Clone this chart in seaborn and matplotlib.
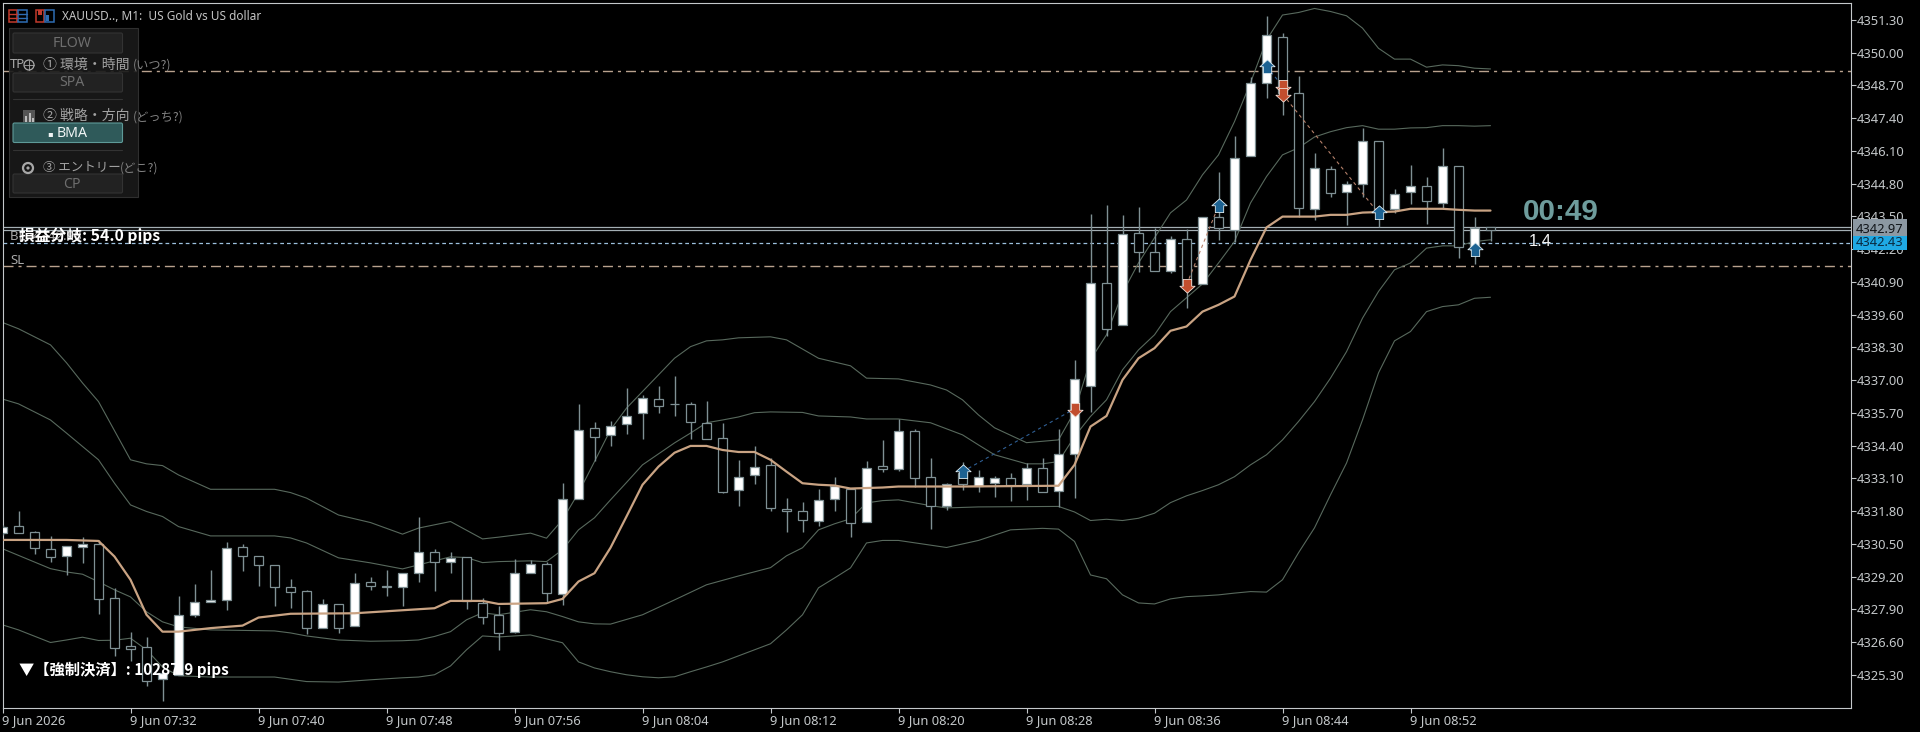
import numpy as np
import pandas as pd
import seaborn as sns
import matplotlib
matplotlib.use("Agg")
import matplotlib.pyplot as plt
from matplotlib.patches import Rectangle, Circle, FancyBboxPatch
from matplotlib.path import Path

# ---------- data (prices) ----------
opens = [4330.93,4331.23,4330.99,4330.32,4330.02,4330.36,4330.49,4328.35,4326.46,4326.40,
4325.14,4325.31,4327.67,4328.21,4328.27,4330.37,4330.02,4329.66,4328.79,4328.63,
4327.16,4328.11,4327.24,4328.98,4328.83,4328.79,4329.34,4330.17,4329.78,4329.98,
4328.15,4327.69,4327.02,4329.34,4329.70,4328.53,4332.28,4335.10,4334.82,4335.25,
4335.69,4336.27,4336.05,4336.05,4335.32,4334.70,4332.63,4333.23,4333.64,4331.88,
4331.79,4331.40,4332.28,4332.69,4331.37,4333.59,4333.47,4334.98,4333.15,4332.00,
4333.32,4332.81,4332.92,4333.11,4332.87,4333.51,4332.61,4334.07,4336.75,4340.85,
4339.17,4342.83,4342.08,4341.35,4342.59,4340.81,4343.47,4342.96,4345.89,4348.78,
4350.63,4348.39,4343.78,4345.37,4344.46,4344.78,4346.48,4343.80,4344.46,4344.70,
4344.05,4345.49,4342.17,4343.09]
highs = [4331.26,4331.81,4331.02,4330.82,4330.40,4330.79,4330.66,4328.75,4327.00,4326.79,
4325.39,4328.44,4328.92,4329.47,4330.58,4330.48,4330.02,4329.66,4329.12,4328.68,
4328.31,4328.11,4329.34,4329.17,4329.47,4329.34,4331.56,4330.30,4330.17,4329.98,
4328.35,4328.02,4329.90,4329.87,4329.80,4332.91,4336.05,4335.33,4335.38,4336.68,
4336.42,4336.75,4337.17,4336.13,4336.18,4335.29,4333.84,4334.39,4333.90,4332.32,
4332.16,4332.69,4333.15,4332.69,4333.81,4334.63,4335.46,4335.06,4333.90,4332.91,
4333.76,4333.44,4333.20,4333.31,4333.71,4333.90,4335.07,4337.80,4343.60,4343.96,
4343.56,4343.86,4343.03,4342.73,4343.00,4343.47,4345.25,4346.69,4349.02,4351.47,
4350.77,4349.07,4346.01,4345.48,4344.91,4347.00,4346.48,4344.58,4345.54,4345.06,
4346.20,4345.49,4343.47,4343.09]
lows = [4330.86,4330.94,4330.11,4329.80,4329.27,4329.74,4327.73,4326.07,4325.86,4324.88,
4324.25,4325.31,4327.62,4328.21,4327.86,4329.44,4328.84,4328.02,4327.94,4326.93,
4327.16,4326.98,4327.24,4328.68,4328.44,4328.02,4329.01,4328.64,4329.34,4327.92,
4327.33,4326.30,4326.96,4329.34,4328.15,4328.08,4332.28,4333.81,4334.39,4334.87,
4334.67,4335.71,4335.58,4334.66,4334.66,4332.54,4332.02,4332.88,4331.79,4330.99,
4330.99,4331.22,4331.81,4330.79,4331.37,4333.37,4333.41,4332.78,4331.10,4331.83,
4332.65,4332.57,4332.37,4332.22,4332.25,4332.58,4331.98,4332.34,4335.75,4338.77,
4339.17,4341.28,4341.35,4341.25,4339.86,4340.81,4342.57,4342.50,4345.89,4348.21,
4347.53,4343.49,4343.36,4344.25,4343.16,4344.25,4343.09,4343.63,4343.99,4343.20,
4343.82,4341.84,4341.61,4342.54]
closes = [4331.19,4330.95,4330.33,4330.00,4330.40,4330.49,4328.31,4326.37,4326.35,4325.08,
4325.37,4327.67,4328.19,4328.28,4330.33,4330.02,4329.66,4328.81,4328.61,4327.16,
4328.11,4327.18,4328.94,4328.85,4328.79,4329.34,4330.17,4329.78,4329.96,4328.23,
4327.62,4326.98,4329.34,4329.70,4328.57,4332.28,4335.02,4334.76,4335.20,4335.59,
4336.31,4335.99,4336.04,4335.33,4334.68,4332.58,4333.15,4333.57,4331.92,4331.80,
4331.44,4332.26,4332.82,4331.33,4333.53,4333.47,4334.98,4333.11,4332.01,4332.88,
4332.88,4333.16,4333.12,4332.85,4333.51,4332.58,4334.06,4337.04,4340.85,4339.03,
4342.79,4342.08,4341.35,4342.59,4340.78,4343.47,4343.04,4345.81,4348.78,4350.70,
4348.40,4343.82,4345.41,4344.44,4344.78,4346.48,4343.78,4344.38,4344.70,4344.09,
4345.49,4342.30,4343.05,4342.95]

upper2_bars = [0,1,3,4,5,6,8,9,10,11,13,17,18,19,21,23,25,26,28,30,31,33,34,35,36,37,38,39,40,41,42,43,44,45,46,48,49,51,53,54,56,58,59,60,61,62,64,66,67,68,69,70,71,72,73,74,75,76,77,78,79,80,81,82,83,84,85,86,87,88,89,90,91,92,93]
upper2_vals = [4339.29,4339.04,4338.40,4337.69,4336.89,4336.15,4333.84,4333.68,4333.61,4333.24,4332.67,4332.67,4332.54,4332.32,4331.65,4331.35,4330.89,4331.13,4331.39,4330.70,4330.77,4330.93,4330.73,4331.46,4332.53,4333.77,4335.03,4335.89,4336.55,4337.21,4337.87,4338.33,4338.56,4338.60,4338.68,4338.72,4338.60,4337.87,4337.57,4337.08,4337.05,4336.81,4336.61,4336.22,4335.62,4335.11,4334.52,4334.63,4335.75,4337.81,4338.80,4340.46,4341.65,4342.65,4343.64,4344.15,4345.15,4345.94,4347.26,4348.80,4350.50,4351.49,4351.59,4351.75,4351.63,4351.46,4350.97,4350.17,4349.74,4349.74,4349.42,4349.51,4349.48,4349.38,4349.35]

upper1_bars = [0,1,3,4,5,6,7,8,9,10,11,13,17,18,19,21,23,25,26,28,29,30,31,33,34,35,36,37,38,39,40,42,43,44,45,46,47,48,50,51,53,54,56,58,60,61,62,64,65,66,67,68,69,70,71,72,73,74,75,76,77,78,79,80,81,82,83,84,85,86,87,88,89,90,91,92,93]
upper1_vals = [4336.25,4336.06,4335.42,4334.90,4334.37,4333.84,4332.91,4332.05,4331.79,4331.59,4331.19,4330.82,4330.82,4330.74,4330.54,4329.95,4329.75,4329.51,4329.67,4329.99,4329.96,4329.76,4329.80,4329.83,4329.80,4330.27,4331.06,4331.54,4332.25,4332.94,4333.64,4334.51,4334.90,4335.31,4335.42,4335.54,4335.71,4335.74,4335.72,4335.58,4335.54,4335.46,4335.46,4335.31,4334.83,4334.43,4334.04,4333.68,4333.68,4333.77,4334.76,4335.56,4336.22,4337.41,4338.20,4338.80,4339.72,4340.27,4340.82,4341.65,4342.50,4344.03,4345.08,4345.94,4346.22,4346.65,4346.86,4347.02,4347.10,4346.96,4346.96,4347.01,4347.02,4347.10,4347.10,4347.08,4347.10]

ma_bars = [0,4,6,7,8,9,10,11,13,15,16,18,22,23,27,28,30,31,34,35,36,37,38,39,40,41,42,43,44,45,46,47,48,49,50,51,52,53,55,56,60,66,67,68,69,70,71,72,73,74,75,76,77,78,79,80,82,83,84,85,86,87,88,90,91,92,93]
ma_vals = [4330.66,4330.66,4330.62,4330.00,4329.08,4327.69,4327.02,4327.02,4327.16,4327.26,4327.58,4327.73,4327.75,4327.79,4327.95,4328.24,4328.24,4328.12,4328.15,4328.32,4329.01,4329.34,4330.35,4331.59,4332.85,4333.57,4334.12,4334.39,4334.39,4334.23,4334.15,4334.15,4333.84,4333.37,4332.91,4332.85,4332.82,4332.70,4332.74,4332.78,4332.78,4332.81,4333.64,4335.16,4335.58,4337.01,4337.87,4338.27,4338.96,4339.13,4339.72,4339.99,4340.32,4341.77,4343.06,4343.49,4343.49,4343.56,4343.56,4343.65,4343.67,4343.69,4343.80,4343.80,4343.76,4343.73,4343.73]

lower1_bars = [0,3,4,5,6,7,8,9,10,11,13,17,18,19,21,23,25,26,27,28,29,30,31,33,34,35,36,37,38,40,42,44,46,48,49,50,51,52,53,54,55,56,58,59,61,66,67,68,69,70,71,72,73,74,75,76,77,78,79,80,81,82,83,84,85,86,87,88,89,90,91,92,93]
lower1_vals = [4330.31,4329.52,4329.39,4329.30,4329.00,4328.68,4328.40,4327.81,4327.41,4327.21,4327.09,4327.05,4326.97,4326.85,4326.69,4326.64,4326.66,4326.69,4326.83,4327.02,4327.49,4327.77,4327.69,4327.89,4327.81,4327.62,4327.41,4327.33,4327.32,4327.69,4328.28,4328.88,4329.23,4329.56,4330.03,4330.35,4331.06,4331.30,4331.50,4332.13,4332.22,4332.25,4332.02,4331.93,4331.97,4331.99,4331.77,4331.43,4331.48,4331.43,4331.52,4331.72,4332.14,4332.41,4332.62,4332.85,4333.17,4333.64,4334.04,4334.63,4335.36,4336.15,4337.08,4338.13,4339.46,4340.52,4341.38,4341.65,4342.24,4342.33,4342.33,4342.50,4342.57]

lower2_bars = [0,1,3,4,5,6,7,8,9,10,11,13,17,19,21,23,25,26,27,28,29,30,31,33,35,36,37,38,39,40,41,42,43,44,45,46,47,48,49,50,51,52,53,54,55,56,59,61,63,65,66,67,68,69,70,71,72,73,74,75,76,77,78,79,80,81,82,83,84,85,86,87,88,89,90,91,92,93]
lower2_vals = [4327.29,4327.09,4326.59,4326.69,4326.80,4326.67,4326.68,4326.76,4326.30,4325.62,4325.27,4325.22,4325.22,4325.04,4325.02,4325.11,4325.19,4325.22,4325.31,4325.66,4326.30,4326.85,4326.81,4326.89,4326.58,4325.82,4325.58,4325.43,4325.31,4325.23,4325.19,4325.23,4325.43,4325.62,4325.82,4326.06,4326.30,4326.54,4327.09,4327.69,4328.76,4329.15,4329.55,4330.54,4330.64,4330.64,4330.36,4330.64,4331.06,4331.12,4331.09,4330.60,4329.27,4329.12,4328.48,4328.16,4328.12,4328.32,4328.41,4328.44,4328.48,4328.55,4328.61,4328.59,4329.08,4330.15,4331.14,4332.45,4333.71,4335.42,4337.29,4338.56,4338.93,4339.72,4339.92,4339.99,4340.25,4340.29]

buy_bars = [60,76,79,86,92]
buy_prices = [4333.37,4343.92,4349.44,4343.63,4342.17]
sell_bars = [67,74,80,80]
sell_prices = [4335.86,4340.78,4348.68,4348.35]

tp_price = 4349.28
sl_price = 4341.53
ask_price = 4343.09
bid_price = 4342.95
be_price = 4342.43

price_ticks = [4351.30,4350.00,4348.70,4347.40,4346.10,4344.80,4343.50,4342.20,4340.90,4339.60,4338.30,
               4337.00,4335.70,4334.40,4333.10,4331.80,4330.50,4329.20,4327.90,4326.60,4325.30]
time_bars = [0,8,16,24,32,40,48,56,64,72,80,88]
time_labels = ["9 Jun 2026","9 Jun 07:32","9 Jun 07:40","9 Jun 07:48","9 Jun 07:56","9 Jun 08:04",
               "9 Jun 08:12","9 Jun 08:20","9 Jun 08:28","9 Jun 08:36","9 Jun 08:44","9 Jun 08:52"]

# ---------- theme ----------
BG = "#000000"
FRAME = "#C4C8CA"
CANDLE = "#7F9094"
BAND = "#58695D"
MA = "#C9A383"
sns.set_theme(style="dark", rc={"axes.facecolor": BG, "figure.facecolor": BG, "savefig.facecolor": BG,
                                "axes.edgecolor": FRAME, "axes.linewidth": 0.8, "xtick.color": FRAME,
                                "ytick.color": FRAME, "text.color": FRAME,
                                "xtick.bottom": True, "ytick.right": True, "ytick.left": False,
                                "axes.grid": False})
plt.rcParams["font.family"] = ["Noto Sans", "DejaVu Sans"]
CJK = ["Noto Sans CJK JP", "DejaVu Sans"]

fig = plt.figure(figsize=(19.2, 7.32), dpi=100)
ax = fig.add_axes([2.5/1920, (732-708.3)/732, (1851-2.5)/1920, (708.3-2.5)/732])
ax.set_xlim(0, (1851-2.5)/16)
ax.set_ylim(4352.086-708.3/25.2, 4352.086-2.5/25.2)

# ---------- horizontal levels ----------
dashdot = (0, (7.2, 3.6, 2.2, 3.6))
for p in (tp_price, sl_price):
    ax.axhline(p, color="#B9A28E", lw=1.0, ls=dashdot, zorder=1)
ax.axhline(ask_price, color="#A4AFB4", lw=0.9, zorder=1)
ax.axhline(bid_price, color="#A4AFB4", lw=0.9, zorder=1)
ax.axhline(be_price, color="#9CC0DE", lw=0.9, ls=(0, (3, 2.4)), zorder=1)

# ---------- bands ----------
bands = pd.concat([
    pd.DataFrame({"bar": upper2_bars, "price": upper2_vals, "band": "upper2"}),
    pd.DataFrame({"bar": upper1_bars, "price": upper1_vals, "band": "upper1"}),
    pd.DataFrame({"bar": lower1_bars, "price": lower1_vals, "band": "lower1"}),
    pd.DataFrame({"bar": lower2_bars, "price": lower2_vals, "band": "lower2"}),
])
sns.lineplot(data=bands, x="bar", y="price", hue="band", palette=[BAND]*4, estimator=None, sort=False,
             legend=False, lw=0.8, ax=ax, zorder=2)

# ---------- candles ----------
bars = np.arange(len(opens))
o, h, l, c = map(np.array, (opens, highs, lows, closes))
ax.vlines(bars, l, h, color=CANDLE, lw=1.0, zorder=3)
tops, bots = np.maximum(o, c), np.minimum(o, c)
fills = ["#FFFFFF" if cc >= oo else "#000000" for oo, cc in zip(o, c)]
ax.bar(bars, tops-bots, bottom=bots, width=0.62, color=fills, edgecolor=CANDLE, linewidth=0.9, zorder=4)

# ---------- trade links ----------
trade_kw = dict(estimator=None, sort=False, legend=False, ax=ax, zorder=5, lw=0.8)
def link(b0, p0, b1, p1, col):
    sns.lineplot(x=[b0, b1], y=[p0, p1], color=col, ls=(0, (3, 3)), **trade_kw)
link(buy_bars[0], buy_prices[0], sell_bars[0], sell_prices[0], "#2F5F94")
link(sell_bars[1], sell_prices[1], buy_bars[1], buy_prices[1], "#B5806A")
link(buy_bars[2], buy_prices[2], sell_bars[2], sell_prices[2], "#2F5F94")
link(sell_bars[3], sell_prices[3], buy_bars[3], buy_prices[3], "#B5806A")

# ---------- moving average ----------
sns.lineplot(x=ma_bars, y=ma_vals, color=MA, lw=1.6, estimator=None, sort=False, legend=False, ax=ax, zorder=6)

# ---------- arrows ----------
up = Path([(0,1),(1,0.1),(0.55,0.1),(0.55,-0.8),(-0.55,-0.8),(-0.55,0.1),(-1,0.1),(0,1)], closed=True)
down = Path([(0,-1),(1,-0.1),(0.55,-0.1),(0.55,0.8),(-0.55,0.8),(-0.55,-0.1),(-1,-0.1),(0,-1)], closed=True)
sns.scatterplot(x=buy_bars, y=buy_prices, marker=up, s=120, color="#1C6292", edgecolor="#DDECF2",
                linewidth=0.6, legend=False, ax=ax, zorder=7)
sns.scatterplot(x=sell_bars, y=sell_prices, marker=down, s=120, color="#C24E2E", edgecolor="#F0DED6",
                linewidth=0.6, legend=False, ax=ax, zorder=7)

# ---------- axes ----------
ax.yaxis.tick_right()
ax.set_yticks(price_ticks)
ax.set_yticklabels([f"{p:.2f}" for p in price_ticks])
ax.set_xticks(time_bars)
ax.set_xticklabels(time_labels, ha="left")
ax.tick_params(axis="y", length=3.6, width=0.8, pad=0.5, labelsize=9.3, colors=FRAME, right=True, left=False)
ax.tick_params(axis="x", length=3.6, width=0.8, pad=0.8, labelsize=9.3, colors=FRAME, bottom=True)
ax.set_xlabel("")
ax.set_ylabel("")
for s in ax.spines.values():
    s.set_color(FRAME)
    s.set_linewidth(0.8)

# ---------- interface overlay (pixel space) ----------
ui = fig.add_axes([0, 0, 1, 1], zorder=5)
ui.set_xlim(0, 1920)
ui.set_ylim(732, 0)
ui.axis("off")
ui.patch.set_alpha(0)

def rect(x0, y0, x1, y1, fc, ec="none", lw=0.8, alpha=1.0, z=1):
    ui.add_patch(Rectangle((x0, y0), x1-x0, y1-y0, fc=fc, ec=ec, lw=lw, alpha=alpha, zorder=z))

# top-left icons
rect(9, 10, 17, 22, "#000000", "#C23A2C", 1.1)
rect(18, 10, 27, 22, "#000000", "#2E6DB4", 1.1)
for yy in (14, 18):
    ui.plot([9, 17], [yy, yy], color="#C23A2C", lw=1.0)
    ui.plot([18, 27], [yy, yy], color="#2E6DB4", lw=1.0)
rect(36, 10, 44, 22, "#000000", "#C23A2C", 1.1)
rect(45, 10, 54, 22, "#000000", "#2E6DB4", 1.1)
rect(46, 15, 49, 21, "#2E6DB4")
rect(38, 10, 42, 15, "#C23A2C")
ui.text(62, 16, "XAUUSD.., M1:  US Gold vs US dollar", color="#C4C4C4", fontsize=8.5, va="center", ha="left")

# panel
rect(8.5, 28, 137.5, 197, "#1A1A1A", "#333333", 0.8, alpha=0.92)
def button(y0, y1, label, fc="#222222", ec="#333333", col="#6E6E6E", cx=72):
    ui.add_patch(FancyBboxPatch((13, y0), 109.5, y1-y0, boxstyle="round,pad=0,rounding_size=1.5",
                                fc=fc, ec=ec, lw=0.8, zorder=2))
    ui.text(cx, (y0+y1)/2+0.5, label, color=col, fontsize=10.2, ha="center", va="center", zorder=3)
button(33, 53, "FLOW")
button(73, 92, "SPA")
button(123, 142.5, "BMA", fc="#2F5A5A", ec="#5E9A98", col="#F0F5F5")
ui.text(50, 133.5, "▪", color="#F0F5F5", fontsize=6, ha="center", va="center", zorder=3)
button(174, 193, "CP")
ui.plot([13, 122], [99, 99], color="#333333", lw=0.8, zorder=2)
ui.plot([13, 122], [150, 150], color="#333333", lw=0.8, zorder=2)

for yy, main, tail, x_tail, fs in [(64.5, "① 環境・時間", "(いつ?)", 133, 10.0),
                                   (116, "② 戦略・方向", "(どっち?)", 133, 10.0),
                                   (167, "③ エントリー", "(どこ?)", 120, 9.0)]:
    ui.text(43, yy, main, color="#A2A2A2", fontsize=fs, family=CJK, ha="left", va="center", zorder=3)
    ui.text(x_tail, yy+1, tail, color="#828282", fontsize=8.8, family=CJK, ha="left", va="center", zorder=3)
# row icons
ui.add_patch(Circle((29, 65), 5, fc="none", ec="#A8A8A8", lw=0.9, zorder=3))
ui.plot([24, 34], [65, 65], color="#A8A8A8", lw=0.6, zorder=3)
ui.plot([29, 29], [60, 70], color="#A8A8A8", lw=0.6, zorder=3)
rect(23, 110, 35, 122, "#555555", z=3)
rect(25, 116, 27, 122, "#BBBBBB", z=4)
rect(28.5, 113, 30.5, 122, "#BBBBBB", z=4)
rect(32, 118, 34, 122, "#BBBBBB", z=4)
ui.add_patch(Circle((28, 168), 5, fc="none", ec="#A8A8A8", lw=1.6, zorder=3))
ui.add_patch(Circle((28, 168), 1.6, fc="#A8A8A8", ec="none", zorder=3))

# level labels
ui.text(10, 64, "TP", color="#A8A8A8", fontsize=9.5, ha="left", va="center", zorder=2)
ui.text(10, 237, "BE :4342.98", color="#A8A8A8", fontsize=9.5, ha="left", va="center", zorder=2)
ui.text(10, 261, "SL", color="#A8A8A8", fontsize=9.5, ha="left", va="center", zorder=2)
ui.text(19, 236, "損益分岐: 54.0 pips", color="#FFFFFF", fontsize=11.3, fontweight="bold", family=CJK,
        ha="left", va="center", zorder=4)
ui.text(19, 670, "▼【強制決済】: 10287.9 pips", color="#FFFFFF", fontsize=11.0, fontweight="bold", family=CJK,
        ha="left", va="center", zorder=4)
ui.text(1523, 212.5, "00:49", color="#6E9C9C", fontsize=21.4, fontweight="bold", family=["Liberation Sans"],
        ha="left", va="center")
ui.text(1529, 241, "1.4", color="#F2F2F2", fontsize=12, family=["Liberation Sans"], ha="left", va="center")

# price tags
rect(1853, 219, 1907, 235.7, "#8C98A2")
rect(1853, 235.7, 1907, 250, "#1FA9E4")
ui.text(1856, 229.5, f"{bid_price+0.02:.2f}", color="#101418", fontsize=9.3, ha="left", va="center", zorder=3)
ui.text(1856, 243, f"{be_price:.2f}", color="#0A2A40", fontsize=9.3, ha="left", va="center", zorder=3)

fig.savefig("out.png", dpi=100, facecolor=BG)
